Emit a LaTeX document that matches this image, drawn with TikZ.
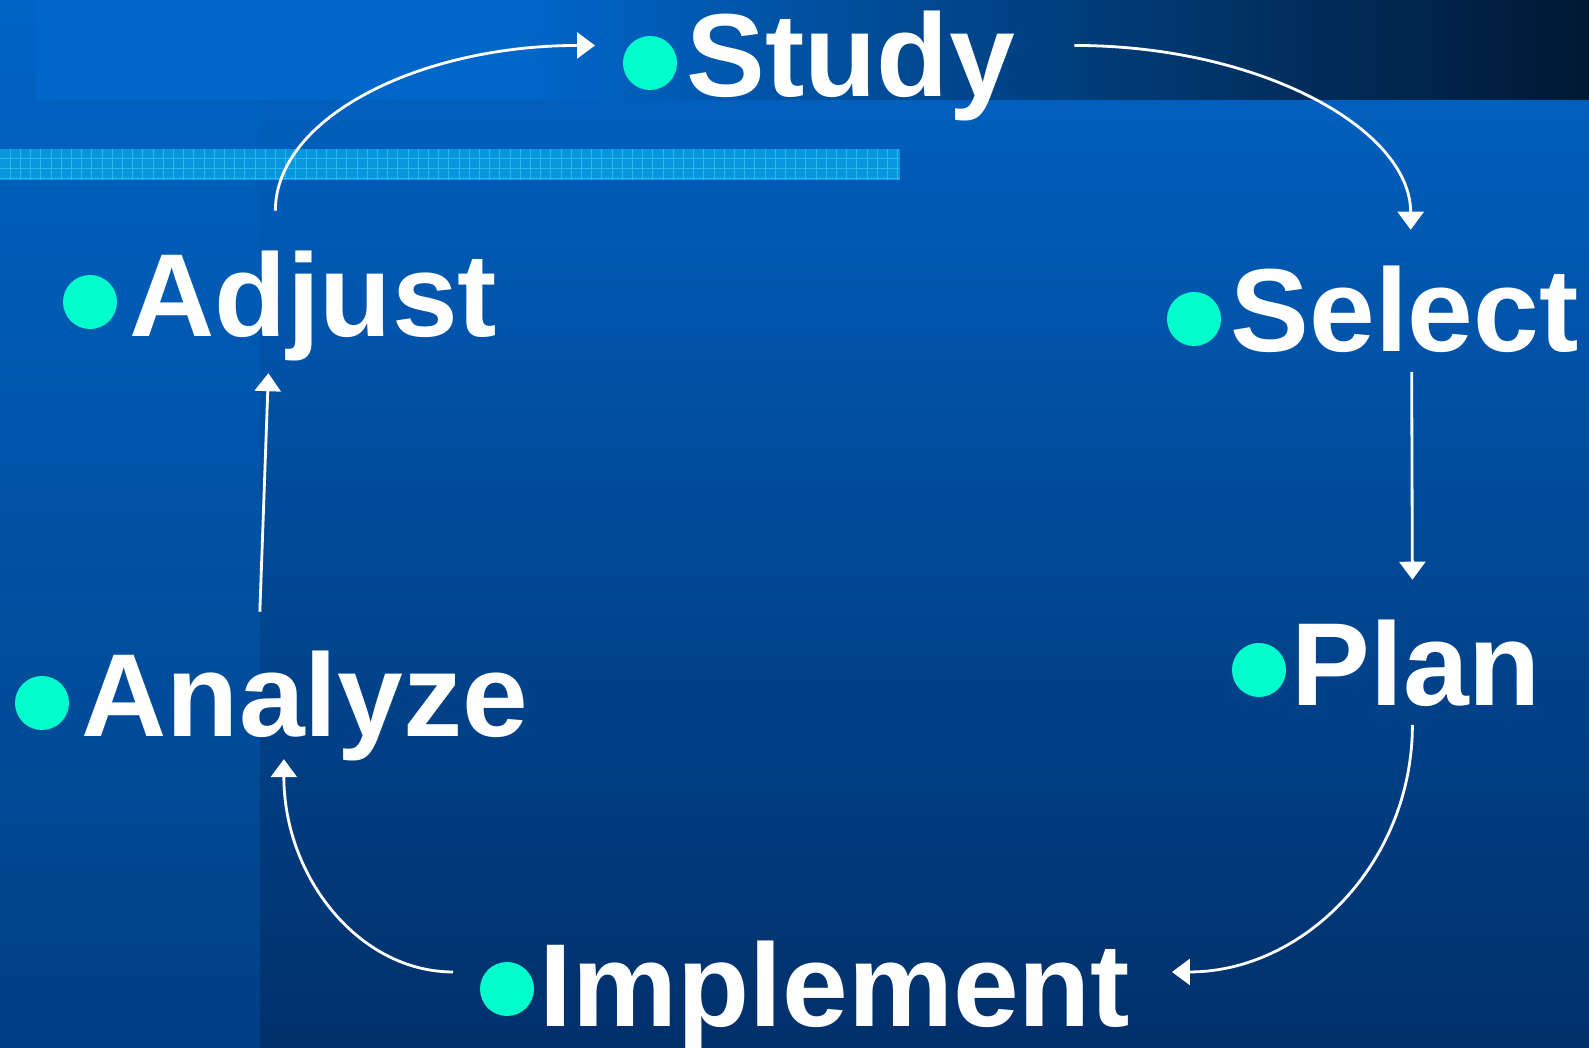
\documentclass[tikz,border=0pt]{standalone}
\usepackage{fontspec}
\setmainfont{Liberation Sans}
\usetikzlibrary{arrows.meta}

\definecolor{deckblue}{RGB}{0,100,198}
\definecolor{deepblue}{RGB}{0,48,106}
\definecolor{stripblue}{RGB}{0,64,132}
\definecolor{nightblue}{RGB}{0,24,51}
\definecolor{bandblue}{RGB}{0,102,202}
\definecolor{meshblue}{RGB}{8,150,220}
\definecolor{meshline}{RGB}{40,184,240}
\definecolor{dotcyan}{RGB}{0,255,204}

\tikzset{
  stage/.style={anchor=base west, inner sep=0pt, text=white,
    font=\bfseries\fontsize{33.6}{36}\selectfont},
  dot/.style={circle, fill=dotcyan, minimum size=5.4mm, inner sep=0pt},
  flow/.style={draw=white, line width=0.8pt, -{Triangle[length=1.8mm,width=2.6mm]}},
}

\begin{document}
\begin{tikzpicture}[x=0.1mm, y=-0.1mm]
    \useasboundingbox (0,0) rectangle (1589,1048);
    % backdrop
    \shade[top color=deckblue, bottom color=deepblue] (0,0) rectangle (1589,1048);
    \shade[top color=deckblue, bottom color=stripblue] (0,0) rectangle (260,1048);
    \fill[bandblue] (36,0) rectangle (521,100);
    \shade[left color=bandblue, right color=nightblue] (520,0) rectangle (1589,100);
    % mesh band
    \fill[meshblue] (0,149) rectangle (900,180);
    \foreach \x in {10.2,20.4,...,899}
        \draw[meshline, line width=0.1mm] (\x,149) -- (\x,180);
    \foreach \y in {159,169,179}
        \draw[meshline, line width=0.1mm] (0,\y) -- (900,\y);

    % the six stages
    \node[dot] (study-dot) at (650,63) {};
    \node[stage] (study) at (686,97) {Study};
    \node[dot] (select-dot) at (1194,319) {};
    \node[stage] (select) at (1230,352) {Select};
    \node[dot] (plan-dot) at (1259,670) {};
    \node[stage] (plan) at (1291,706) {Plan};
    \node[dot] (implement-dot) at (507,989) {};
    \node[stage] (implement) at (539,1026) {Implement};
    \node[dot] (analyze-dot) at (42,703) {};
    \node[stage] (analyze) at (81,737) {Analyze};
    \node[dot] (adjust-dot) at (90,302) {};
    \node[stage] (adjust) at (129,337) {Adjust};

    % cycle arrows
    \draw[flow] ([shift={(-38,-40)}]adjust.north) .. controls +(0,-93) and +(-176,0) .. ([shift={(-91,-21)}]study.west);
    \draw[flow] ([shift={(59,-21)}]study.east) .. controls +(185,0) and +(0,-101) .. ([shift={(6,-36)}]select.north);
    \draw[flow] ([shift={(7,18)}]select.south) -- ([shift={(-4,-40)}]plan.north);
    \draw[flow] ([shift={(-4,17)}]plan.south) .. controls +(0,138) and +(132,0) .. ([shift={(41,-23.5)}]implement.east);
    \draw[flow] ([shift={(-86,-23.5)}]implement.west) .. controls +(-93,0) and +(0,119) .. ([shift={(-21,-3)}]analyze.south);
    \draw[flow] ([shift={(-45,-39)}]analyze.north) -- ([shift={(-45,11)}]adjust.south);
\end{tikzpicture}
\end{document}
